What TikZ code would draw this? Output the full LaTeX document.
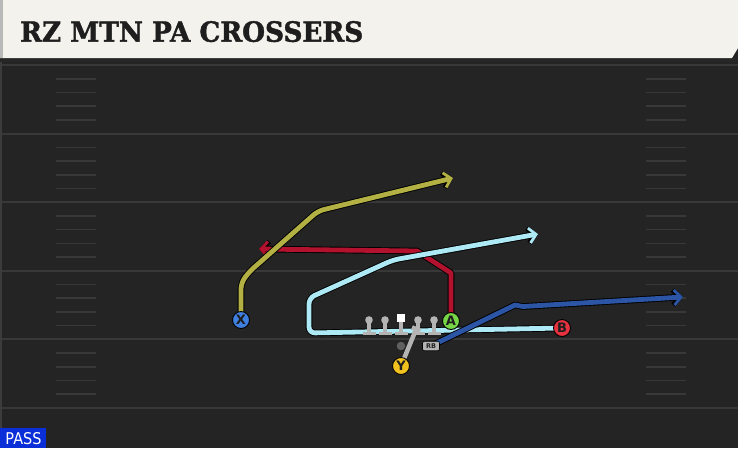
\documentclass[tikz,border=0pt]{standalone}
\usepackage{fontspec}
\usetikzlibrary{arrows.meta}
\newfontfamily\titlefont{DejaVu Serif}[BoldFeatures={FakeBold=1.6}]
\newfontfamily\labfont{DejaVu Sans}
\newfontfamily\passfont{DejaVu Sans}
\definecolor{fieldbg}{HTML}{242424}
\definecolor{yardline}{HTML}{383838}
\definecolor{hashcol}{HTML}{383838}
\definecolor{edgecol}{HTML}{3C3C3C}
\definecolor{titlebg}{HTML}{F4F2EC}
\definecolor{titletext}{HTML}{1E1E1E}
\definecolor{rolive}{HTML}{B3B144}
\definecolor{rred}{HTML}{B3122E}
\definecolor{rlight}{HTML}{AEEAF6}
\definecolor{rblue}{HTML}{2C55A6}
\definecolor{olgray}{HTML}{B4B4B4}
\definecolor{pX}{HTML}{3F7FE0}
\definecolor{pA}{HTML}{76D646}
\definecolor{pB}{HTML}{E5323F}
\definecolor{pY}{HTML}{F1C21E}
\definecolor{passblue}{HTML}{0A2ED8}
\tikzset{
  yard/.style={draw=yardline, line width=2pt},
  hash/.style={draw=hashcol, line width=1.6pt},
  outline/.style={draw=black, line width=6.6pt, line join=round,
    -{Straight Barb[length=7pt,width=15pt,line width=4.6pt]}},
  route/.style={draw=#1, line width=4.8pt, line join=round,
    -{Straight Barb[length=7pt,width=15pt,line width=2.8pt]}},
  player/.style={circle, draw=black, line width=0.9pt, fill=#1, minimum size=17pt, inner sep=0pt,
    font=\labfont\bfseries\fontsize{13}{13}\selectfont, text=titletext},
  lineman/.style={fill=olgray},
}
\begin{document}
\begin{tikzpicture}[x=1pt,y=-1pt]
\useasboundingbox (0,0) rectangle (738,448);
% field
\fill[fieldbg] (0,0) rectangle (738,448);
\fill[edgecol] (0,60) rectangle (2,448);
\foreach \i in {0,...,5} \draw[yard] (2,65+68.6*\i) -- (738,65+68.6*\i);
\foreach \i in {0,...,4} \foreach \k in {1,...,4} {
  \draw[hash] (56,65+68.6*\i+13.72*\k) -- (96,65+68.6*\i+13.72*\k);
  \draw[hash] (646,65+68.6*\i+13.72*\k) -- (686,65+68.6*\i+13.72*\k);
}
% title bar
\fill[black!85] (0,57) rectangle (738,61.5);
\fill[titlebg] (0,0) -- (738,0) -- (738,48) -- (732,58) -- (0,58) -- cycle;
\fill[gray!55] (0,0) rectangle (3,58);
\node[anchor=south west, inner sep=0pt, text=titletext] (title) at (20,42.3)
  {\resizebox{343pt}{20.6pt}{\titlefont\bfseries RZ MTN PA CROSSERS}};
% positions
\coordinate (xpos) at (241,320);
\coordinate (apos) at (451,321);
\coordinate (bpos) at (562,328);
\coordinate (ypos) at (401,366);
\coordinate (rbpos) at (431,346);
\coordinate (qbpos) at (401,346);
% waypoints
\coordinate (x1) at (241,283);
\coordinate (x2) at (249,272);
\coordinate (x3) at (318,211);
\coordinate (xend) at (453,178);
\coordinate (a1) at (451,273);
\coordinate (a2) at (417,251);
\coordinate (aend) at (259,249);
\coordinate (b1) at (309,333);
\coordinate (b2) at (309,298);
\coordinate (b3) at (393,260);
\coordinate (bend) at (538,234);
\coordinate (r1) at (515,305);
\coordinate (r2) at (523,306.5);
\coordinate (rend) at (683,297);
\coordinate (yend) at (417,327);
% red route (A)
\draw[outline] (apos) -- (a1) -- (a2) -- (aend);
\draw[route=rred] (apos) -- (a1) -- (a2) -- (aend);
% olive route (X)
\draw[outline,rounded corners=6pt] (xpos) -- (x1) -- (x2) -- (x3) -- (xend);
\draw[route=rolive,rounded corners=6pt] (xpos) -- (x1) -- (x2) -- (x3) -- (xend);
% light blue route (B)
\draw[outline,rounded corners=6pt] (bpos) -- (b1) -- (b2) -- (b3) -- (bend);
\draw[route=rlight,rounded corners=6pt] (bpos) -- (b1) -- (b2) -- (b3) -- (bend);
% blue route (RB)
\draw[outline] (rbpos) -- (r1) -- (r2) -- (rend);
\draw[route=rblue] (rbpos) -- (r1) -- (r2) -- (rend);
% offensive line
\foreach \x in {369,385,418,434} {
  \fill[lineman] (\x,320) circle (3.8pt);
  \fill[lineman] (\x-1.8,320) rectangle (\x+1.8,332);
  \fill[lineman] (\x-6.5,331.5) rectangle (\x+6.5,335);
}
\fill[lineman] (401-1.8,320) rectangle (401+1.8,332);
\fill[lineman] (401-6.5,331.5) rectangle (401+6.5,335);
\fill[white] (396.8,313.5) rectangle (405.4,322);
% Y block
\draw[draw=olgray, line width=4.5pt, -{Bar[width=9pt]}] (ypos) -- (yend);
% QB
\node[circle, fill=gray!75!black, minimum size=8.5pt, inner sep=0pt] (QB) at (qbpos) {};
% RB
\node[draw=black, line width=0.6pt, fill=olgray, rounded corners=2pt, minimum width=17pt, minimum height=9.5pt,
  inner sep=0pt, font=\labfont\bfseries\fontsize{6.5}{6.5}\selectfont, text=titletext] (RB) at (rbpos) {RB};
% players
\node[player=pX] (X) at (xpos) {X};
\node[player=pA] (A) at (apos) {A};
\node[player=pB] (B) at (bpos) {B};
\node[player=pY] (Y) at (ypos) {Y};
% PASS
\fill[passblue] (0,428) rectangle (46,448);
\node[inner sep=0pt, text=white] (pass) at (23.5,439)
  {\resizebox{36pt}{12pt}{\passfont PASS}};
\end{tikzpicture}
\end{document}
